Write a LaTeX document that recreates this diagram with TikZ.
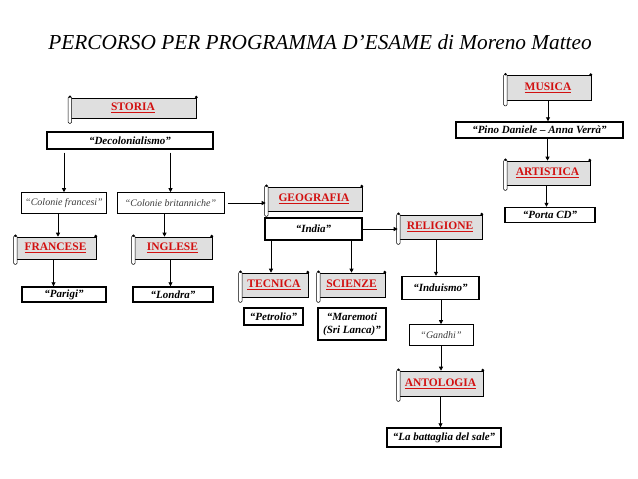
\documentclass[tikz,border=0pt]{standalone}
\usepackage{fontspec}
\setmainfont{Liberation Serif}
\usetikzlibrary{arrows.meta}
\definecolor{titlered}{RGB}{210,16,16}
\definecolor{notegray}{RGB}{60,60,60}
\tikzset{
  quotebox/.style={draw, line width=1.4pt, fill=white, inner sep=0pt, align=center,
    font=\fontsize{11}{13}\selectfont\bfseries\itshape},
  notebox/.style={draw, line width=0.6pt, fill=white, inner sep=0pt, text=notegray,
    font=\fontsize{10}{12}\selectfont\itshape},
  scrollbox/.style={draw, line width=0.6pt, fill=gray!25, inner sep=0pt, text=titlered,
    font=\fontsize{11.5}{13}\selectfont\bfseries},
  arr/.style={-{Triangle[length=4pt,width=4pt]}, line width=0.8pt}
}
\newcommand{\ul}[1]{\underline{#1}}
\begin{document}
\begin{tikzpicture}[x=1pt,y=-1pt]
    \useasboundingbox (0,0) rectangle (638,479);
    \node (title) at (320,42) {\fontsize{21.3}{25}\selectfont\itshape PERCORSO PER PROGRAMMA D'ESAME di Moreno Matteo};
    % storia
    \node[scrollbox, minimum width=127, minimum height=20] (storia) at (133,108) {\ul{STORIA}};
    \node[quotebox, minimum width=166, minimum height=17] (deco) at (130,140.5) {``Decolonialismo''};
    \node[notebox, minimum width=85, minimum height=21] (cf) at (64,203) {``Colonie francesi''};
    \node[notebox, minimum width=107, minimum height=21] (cb) at (170.5,203) {``Colonie britanniche''};
    \node[scrollbox, minimum width=81, minimum height=22] (fr) at (55.5,248) {\ul{FRANCESE}};
    \node[scrollbox, minimum width=79, minimum height=22] (ing) at (172.5,248) {\ul{INGLESE}};
    \node[quotebox, minimum width=84, minimum height=15] (par) at (64,294.5) {``Parigi''};
    \node[quotebox, minimum width=80, minimum height=15] (lon) at (173,294.5) {``Londra''};
    % geografia
    \node[scrollbox, minimum width=96, minimum height=24] (geo) at (314,199) {\ul{GEOGRAFIA}};
    \node[quotebox, minimum width=97, minimum height=22] (ind) at (313.5,229) {``India''};
    \node[scrollbox, minimum width=68, minimum height=24] (tec) at (274,285) {\ul{TECNICA}};
    \node[scrollbox, minimum width=67, minimum height=24] (sci) at (351.5,285) {\ul{SCIENZE}};
    \node[quotebox, minimum width=59, minimum height=17] (pet) at (273.5,316.5) {``Petrolio''};
    \node[quotebox, minimum width=68, minimum height=32] (mar) at (352,324) {``Maremoti\\(Sri Lanca)''};
    % religione
    \node[scrollbox, minimum width=84, minimum height=24] (rel) at (440,227) {\ul{RELIGIONE}};
    \node[quotebox, minimum width=77, minimum height=23] (indu) at (440.5,288) {``Induismo''};
    \node[notebox, minimum width=64, minimum height=21] (gan) at (441,335) {``Gandhi''};
    \node[scrollbox, minimum width=85, minimum height=25] (anto) at (440.5,383.5) {\ul{ANTOLOGIA}};
    \node[quotebox, minimum width=114, minimum height=19] (batt) at (444,437.5) {``La battaglia del sale''};
    % musica
    \node[scrollbox, minimum width=86, minimum height=25] (mus) at (548,88) {\ul{MUSICA}};
    \node[quotebox, minimum width=167, minimum height=16] (pino) at (539.5,130) {``Pino Daniele -- Anna Verr\`a''};
    \node[scrollbox, minimum width=85, minimum height=24] (art) at (547.5,173) {\ul{ARTISTICA}};
    \node[quotebox, minimum width=90, minimum height=15] (porta) at (550,215) {``Porta CD''};
    % scroll ends
    \foreach \s in {storia,fr,ing,geo,tec,sci,rel,anto,mus,art} {
      \draw[fill=white, line width=0.5pt, rounded corners=1.2pt] ([xshift=-1pt,yshift=1pt]\s.north west) rectangle ([xshift=2.5pt,yshift=-5pt]\s.south west);
      \fill ([xshift=0.75pt,yshift=1pt]\s.north west) circle (1.3pt);
      \fill ([xshift=-0.5pt,yshift=0.5pt]\s.north east) circle (1.6pt);
    }
    % arrows
    \draw[arr, shorten <=3pt] (deco.south -| cf.north) -- (cf.north);
    \draw[arr, shorten <=3pt] (deco.south -| cb.north) -- (cb.north);
    \draw[arr] ([xshift=-6pt]cf.south) -- ([xshift=-6pt]cf.south |- fr.north);
    \draw[arr] ([xshift=-6pt]cb.south) -- ([xshift=-6pt]cb.south |- ing.north);
    \draw[arr] ([xshift=-2pt]fr.south) -- ([xshift=-2pt]fr.south |- par.north);
    \draw[arr] ([xshift=-2pt]ing.south) -- ([xshift=-2pt]ing.south |- lon.north);
    \draw[arr, shorten <=4pt] (cb.east) -- (cb.east -| geo.west);
    \draw[arr] (ind.east) -- (ind.east -| rel.west);
    \draw[arr] ([xshift=-3pt]ind.south -| tec.north) -- ([xshift=-3pt]tec.north);
    \draw[arr] (ind.south -| sci.north) -- (sci.north);
    \draw[arr] ([xshift=-4pt]rel.south) -- ([xshift=-4pt]rel.south |- indu.north);
    \draw[arr] (indu.south -| gan.north) -- (gan.north);
    \draw[arr] (gan.south) -- (gan.south |- anto.north);
    \draw[arr] (anto.south) -- (anto.south |- batt.north);
    \draw[arr] (mus.south) -- (mus.south |- pino.north);
    \draw[arr] (pino.south -| art.north) -- (art.north);
    \draw[arr] ([xshift=-1pt]art.south) -- ([xshift=-1pt]art.south |- porta.north);
\end{tikzpicture}
\end{document}
